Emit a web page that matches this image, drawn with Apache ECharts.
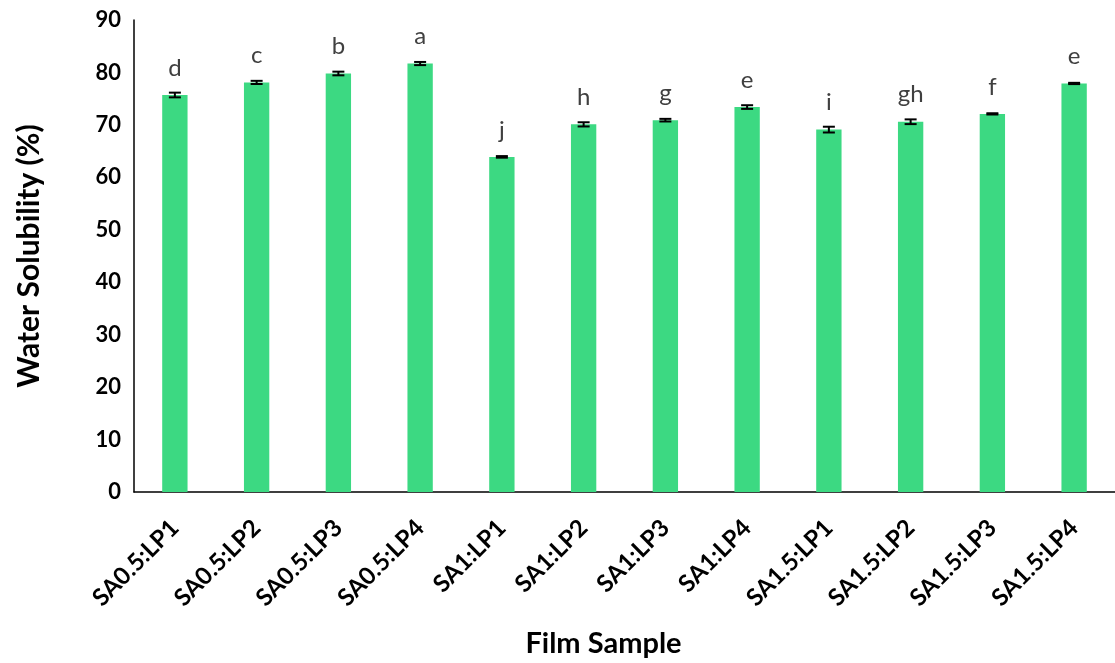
<!DOCTYPE html>
<html>
<head>
<meta charset="utf-8">
<script src="https://cdn.jsdelivr.net/npm/echarts@6/dist/echarts.min.js"></script>
<style>
  html, body { margin: 0; padding: 0; background: #fff; }
  #chart { width: 1115px; height: 663px; }
</style>
</head>
<body>
<div id="chart"></div>
<script>
const categories = ['SA0.5:LP1', 'SA0.5:LP2', 'SA0.5:LP3', 'SA0.5:LP4', 'SA1:LP1', 'SA1:LP2',
  'SA1:LP3', 'SA1:LP4', 'SA1.5:LP1', 'SA1.5:LP2', 'SA1.5:LP3', 'SA1.5:LP4']
const solubility = [75.7, 78.1, 79.8, 81.7, 63.9, 70.1, 70.9, 73.4, 69.1, 70.6, 72.1, 77.9]
const errors = [0.45, 0.3, 0.35, 0.3, 0.15, 0.4, 0.25, 0.35, 0.55, 0.45, 0.12, 0.12]
const letters = ['d', 'c', 'b', 'a', 'j', 'h', 'g', 'e', 'i', 'gh', 'f', 'e']
const yTicks = [0, 10, 20, 30, 40, 50, 60, 70, 80, 90]

const font = 'Lato, "Open Sans", sans-serif'

const chart = echarts.init(document.getElementById('chart'))

// error bar data: [index, low, high]
const errData = solubility.map((v, i) => [i, v - errors[i], v + errors[i]])

const option = {
  animation: false,
  grid: { left: 134, right: 0, top: 20, bottom: 169, containLabel: false },
  xAxis: {
    type: 'category',
    data: categories,
    name: 'Film Sample',
    nameLocation: 'middle',
    nameGap: 137,
    nameTextStyle: { fontFamily: font, fontSize: 29, fontWeight: 'bold', color: '#000', padding: [0, 42, 0, 0] },
    axisLine: { lineStyle: { color: '#000', width: 1.5 } },
    axisTick: { show: false },
    axisLabel: {
      rotate: 45, margin: 32, interval: 0,
      fontFamily: font, fontSize: 24, fontWeight: 'bold', color: '#000'
    }
  },
  yAxis: {
    type: 'value',
    min: yTicks[0],
    max: yTicks[yTicks.length - 1],
    interval: 10,
    name: 'Water Solubility (%)',
    nameLocation: 'middle',
    nameGap: 90,
    nameTextStyle: { fontFamily: font, fontSize: 30, fontWeight: 'bold', color: '#000' },
    axisLine: { show: true, lineStyle: { color: '#000', width: 1.5 } },
    axisTick: { show: false },
    splitLine: { show: false },
    axisLabel: { margin: 13, fontFamily: font, fontSize: 22, fontWeight: 'bold', color: '#000' }
  },
  series: [
    {
      type: 'bar',
      data: solubility,
      barWidth: '31%',
      itemStyle: { color: '#3CD982' },
      label: {
        show: true,
        position: 'top',
        distance: 15,
        formatter: p => letters[p.dataIndex],
        fontFamily: font, fontSize: 24, color: '#404040'
      }
    },
    {
      type: 'custom',
      data: errData,
      z: 10,
      renderItem: (params, api) => {
        const x = api.value(0)
        const lo = api.coord([x, api.value(1)])
        const hi = api.coord([x, api.value(2)])
        const hw = 6
        const style = { stroke: '#000', lineWidth: 2 }
        return {
          type: 'group',
          children: [
            { type: 'line', shape: { x1: lo[0], y1: lo[1], x2: hi[0], y2: hi[1] }, style },
            { type: 'line', shape: { x1: lo[0] - hw, y1: lo[1], x2: lo[0] + hw, y2: lo[1] }, style },
            { type: 'line', shape: { x1: hi[0] - hw, y1: hi[1], x2: hi[0] + hw, y2: hi[1] }, style }
          ]
        }
      }
    }
  ]
}

chart.setOption(option)
</script>
</body>
</html>
